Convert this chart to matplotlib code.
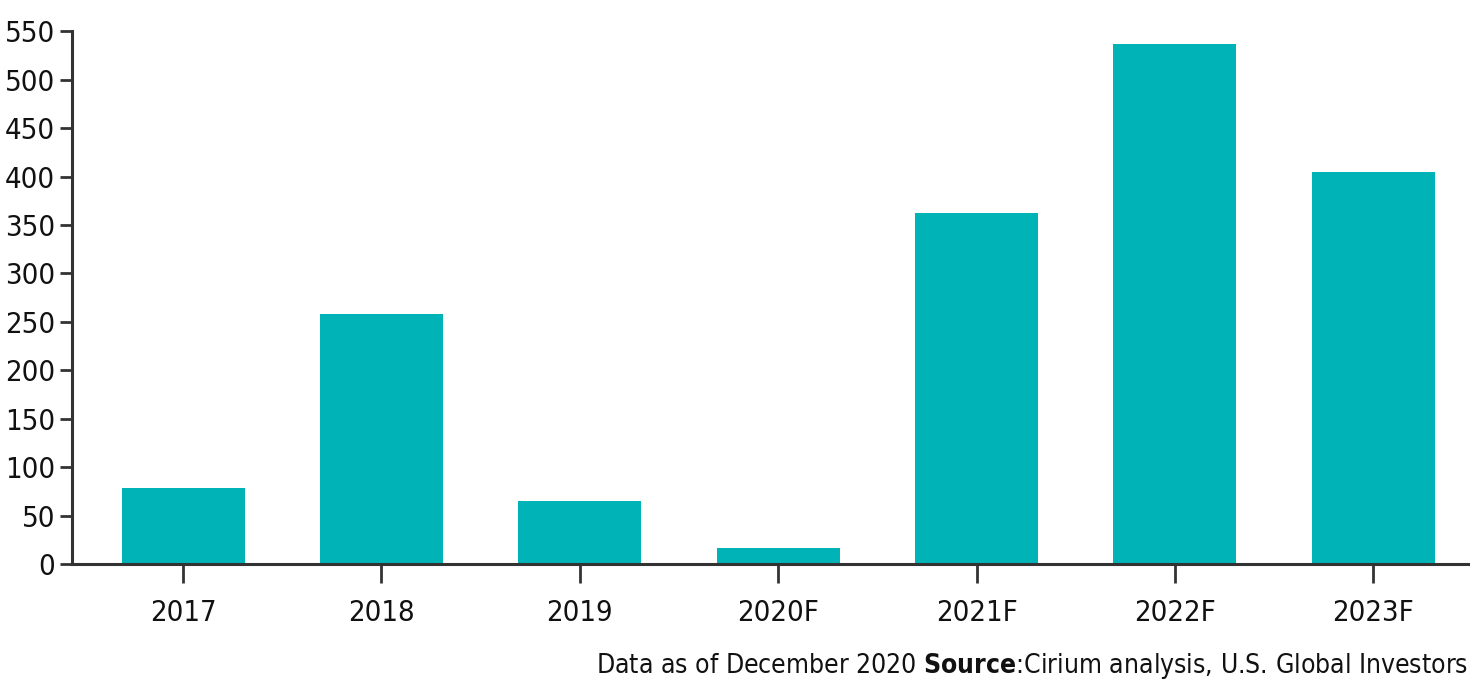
import numpy as np
import matplotlib.pyplot as plt

plt.rcParams['font.family'] = ['DejaVu Sans']
plt.rcParams['font.stretch'] = 'condensed'

years = ['2017', '2018', '2019', '2020F', '2021F', '2022F', '2023F']
deliveries = [78, 258, 65, 17, 362, 537, 405]
y_ticks = list(range(0, 551, 50))

bar_color = '#00b3b7'
axis_color = '#333333'

fig = plt.figure(figsize=(14.7, 6.95), dpi=100)
ax = fig.add_axes([0.049, 0.1885, 0.950, 0.7665])

x = np.arange(len(years))
ax.bar(x, deliveries, width=0.62, color=bar_color, zorder=2)

ax.set_xlim(-0.56, 6.48)
ax.set_ylim(0, 550)
ax.set_yticks(y_ticks)
ax.set_xticks(x)
ax.set_xticklabels(years)

for side in ['top', 'right']:
    ax.spines[side].set_visible(False)
for side in ['left', 'bottom']:
    ax.spines[side].set_color(axis_color)
    ax.spines[side].set_linewidth(2.2)

ax.tick_params(axis='y', direction='out', length=9, width=2, color=axis_color,
               labelsize=21, pad=3, labelcolor='#111111')
ax.tick_params(axis='x', direction='out', length=14, width=2, color=axis_color,
               labelsize=21, pad=11, labelcolor='#111111')

fig.text(0.9985, 0.02, 'Data as of December 2020 $\\bf{Source}$:Cirium analysis, U.S. Global Investors',
         ha='right', va='bottom', fontsize=19, color='#111111')

fig.savefig('out.png', dpi=100, facecolor='white')
